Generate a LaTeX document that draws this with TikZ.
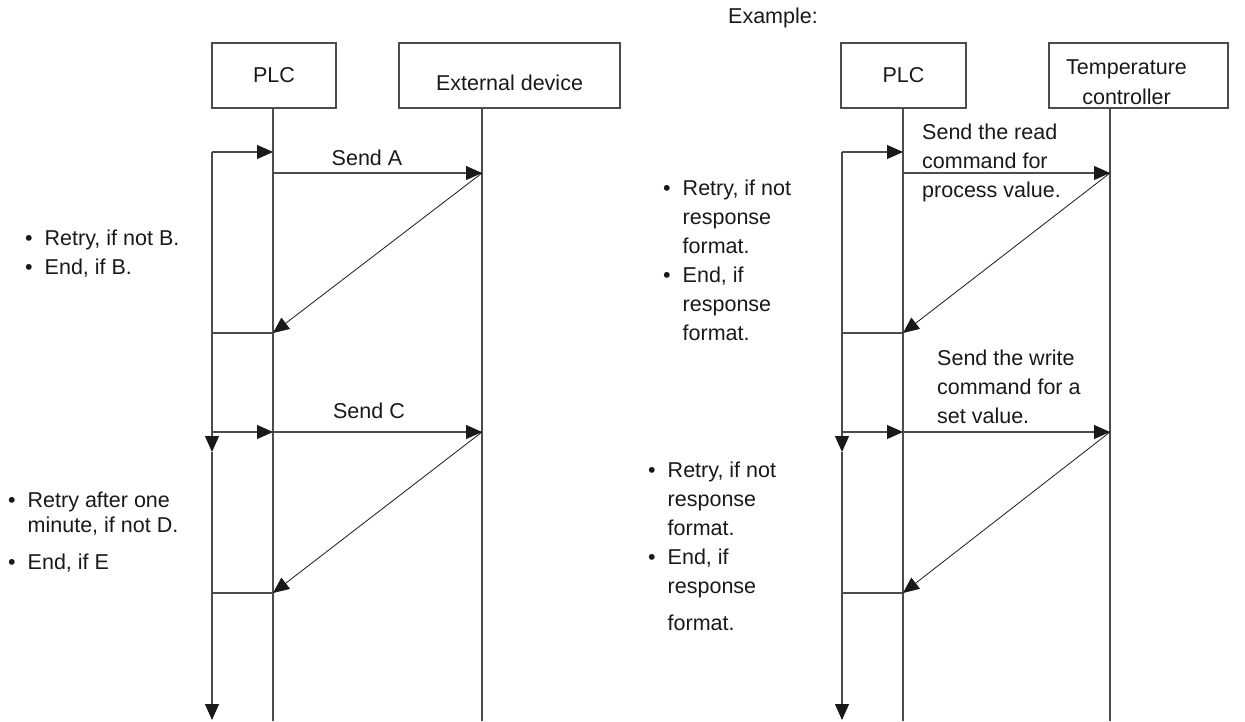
\documentclass[tikz,border=0pt]{standalone}
\usepackage{fontspec}
\setmainfont{Liberation Sans}
\usetikzlibrary{arrows.meta,positioning}
\begin{document}
\begin{tikzpicture}[x=1pt,y=-1pt,>={Triangle[length=16pt,width=14pt,color=black!90]},
  every node/.style={font=\fontsize{21.5}{29}\selectfont, text=black!90},
  unit/.style={draw=black!70, line width=1.1pt, rectangle, minimum height=65pt, inner sep=0pt},
  life/.style={draw=black!70, line width=1.1pt},
  msg/.style={->, draw=black!70, line width=1.1pt},
  reply/.style={->, draw=black!90, line width=0.8pt},
  note/.style={anchor=north west, align=left, inner sep=0pt}]
\useasboundingbox (0,0) rectangle (1245,721);

% ---- left: general sequence
\node[unit, minimum width=124pt] (plcA) at (274,75.5) {PLC};
\node[unit, minimum width=221pt, label={[yshift=-7pt]center:External device}] (devA) at (509.5,75.5) {};
\coordinate (plcAend) at (273,721);
\coordinate (devAend) at (482,721);
\draw[life] (plcA.south -| plcAend) -- (plcAend);
\draw[life] (devA.south -| devAend) -- (devAend);

\coordinate (loopA1) at (212,152);
\coordinate (loopA3) at (212,333);
\coordinate (loopA4) at (212,432);
\coordinate (loopA5) at (212,593);
\coordinate (loopAmid) at (212,452);
\coordinate (loopAend) at (212,720);
\coordinate (plcA1) at (273,152);
\coordinate (plcA2) at (273,173);
\coordinate (plcA3) at (273,333);
\coordinate (plcA4) at (273,432);
\coordinate (plcA5) at (273,593);
\coordinate (devA2) at (482,173);
\coordinate (devA4) at (482,432);

\draw[msg] (loopA1) -- (plcA1);
\draw[msg] (plcA2) -- node[above=3pt, xshift=-10.5pt] (sendA) {Send A} (devA2);
\draw[reply] (devA2) -- (plcA3);
\draw[life] (loopA3) -- (plcA3);
\draw[msg] (loopA4) -- (plcA4);
\draw[msg] (plcA4) -- node[above=9pt, xshift=-8.5pt] (sendC) {Send C} (devA4);
\draw[reply] (devA4) -- (plcA5);
\draw[life] (loopA5) -- (plcA5);
\draw[msg] (loopA1) -- (loopAmid);
\draw[msg] (loopAmid) -- (loopAend);

\node[note] (ruleA1) at (25,224.5) {\begin{tabular}{@{}l@{\hspace{12pt}}l@{}}\textbullet & Retry, if not B.\\ \textbullet & End, if B.\end{tabular}};
\node[note] (ruleA2) at (8,486.5) {\begin{tabular}{@{}l@{\hspace{12pt}}l@{}}\textbullet & Retry after one\\[-4pt] & minute, if not D.\\[8pt] \textbullet & End, if E\end{tabular}};

% ---- right: example
\node (example) at (773,18) {Example:};
\node[unit, minimum width=125pt] (plcB) at (903.5,75.5) {PLC};
\node[unit, minimum width=179pt, label={[yshift=-7pt, xshift=-12pt, align=center, font=\fontsize{21.5}{30}\selectfont]center:Temperature\\controller}] (tempB) at (1138.5,75.5) {};
\coordinate (plcBend) at (903,721);
\coordinate (tempBend) at (1110,721);
\draw[life] (plcB.south -| plcBend) -- (plcBend);
\draw[life] (tempB.south -| tempBend) -- (tempBend);

\coordinate (loopB1) at (842,152);
\coordinate (loopB3) at (842,333);
\coordinate (loopB4) at (842,432);
\coordinate (loopB5) at (842,593);
\coordinate (loopBmid) at (842,452);
\coordinate (loopBend) at (842,720);
\coordinate (plcB1) at (903,152);
\coordinate (plcB2) at (903,173);
\coordinate (plcB3) at (903,333);
\coordinate (plcB4) at (903,432);
\coordinate (plcB5) at (903,593);
\coordinate (tempB2) at (1110,173);
\coordinate (tempB4) at (1110,432);

\draw[msg] (loopB1) -- (plcB1);
\draw[msg] (plcB2) -- (tempB2);
\draw[reply] (tempB2) -- (plcB3);
\draw[life] (loopB3) -- (plcB3);
\draw[msg] (loopB4) -- (plcB4);
\draw[msg] (plcB4) -- (tempB4);
\draw[reply] (tempB4) -- (plcB5);
\draw[life] (loopB5) -- (plcB5);
\draw[msg] (loopB1) -- (loopBmid);
\draw[msg] (loopBmid) -- (loopBend);

\node[note] (readB) at (922,124) {Send the read\\command for\\process value.};
\node[note] (writeB) at (937,350) {Send the write\\command for a\\set value.};

\node[note] (ruleB1) at (663,174.5) {\begin{tabular}{@{}l@{\hspace{12pt}}l@{}}\textbullet & Retry, if not\\ & response\\ & format.\\ \textbullet & End, if\\ & response\\ & format.\end{tabular}};
\node[note] (ruleB2) at (648,456.5) {\begin{tabular}{@{}l@{\hspace{12pt}}l@{}}\textbullet & Retry, if not\\ & response\\ & format.\\ \textbullet & End, if\\ & response\\[8pt] & format.\end{tabular}};
\end{tikzpicture}
\end{document}
